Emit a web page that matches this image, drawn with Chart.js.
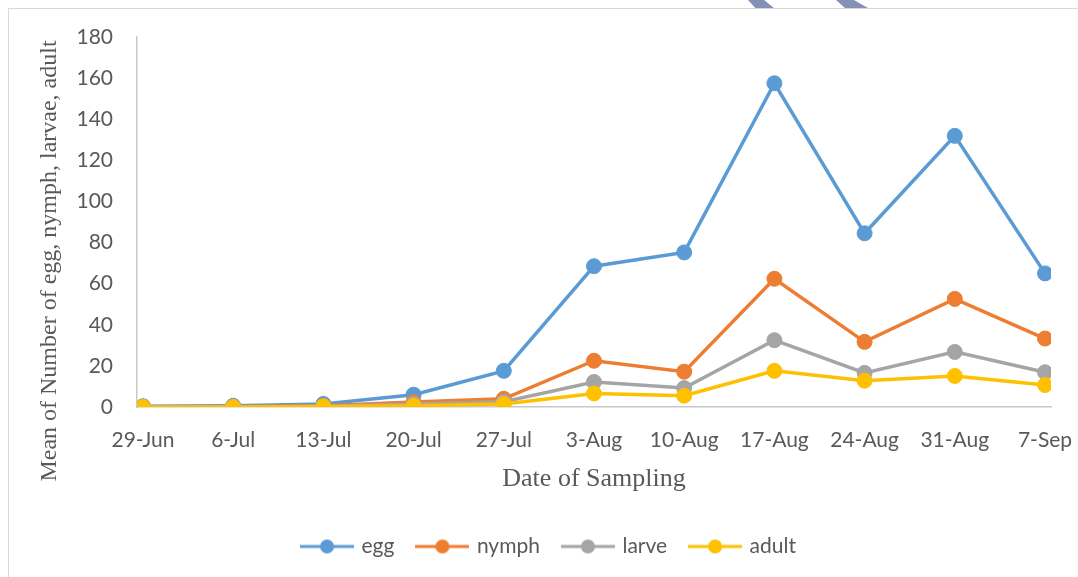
<!DOCTYPE html>
<html>
<head>
<meta charset="utf-8">
<script src="https://cdn.jsdelivr.net/npm/chart.js@4"></script>
<style>
  html, body { margin: 0; padding: 0; background: #ffffff; }
  #wrap { position: relative; width: 1078px; height: 577px; overflow: hidden; }
  #frame { position: absolute; left: 8px; top: 8px; width: 1200px; height: 700px;
           border-left: 1px solid #d9d9d9; border-top: 1px solid #d9d9d9; }
  .deco { position: absolute; top: 0; height: 8px; background: #8591b4; }
  #d1 { left: 748px; width: 26px; clip-path: polygon(0 0, 62% 0, 100% 100%, 28% 100%); }
  #d2 { left: 836px; width: 32px; clip-path: polygon(0 0, 56% 0, 100% 100%, 28% 100%); }
  canvas { position: absolute; left: 0; top: 0; }
</style>
</head>
<body>
<div id="wrap">
  <div id="frame"></div>
  <div class="deco" id="d1"></div>
  <div class="deco" id="d2"></div>
  <canvas id="c" width="1078" height="577"></canvas>
</div>
<script>
// ---- data ----
const dates = ['29-Jun', '6-Jul', '13-Jul', '20-Jul', '27-Jul', '3-Aug', '10-Aug', '17-Aug', '24-Aug', '31-Aug', '7-Sep'];
const egg   = [0.4, 0.6, 1.5, 6.0, 17.6, 68.5, 75.2, 157.5, 84.5, 131.9, 65.0];
const nymph = [0.1, 0.2, 0.6, 2.4, 4.0, 22.5, 17.2, 62.4, 31.7, 52.6, 33.3];
const larve = [0.0, 0.1, 0.4, 1.5, 2.6, 12.2, 9.2, 32.5, 16.6, 26.8, 16.9];
const adult = [0.0, 0.0, 0.3, 0.6, 1.5, 6.6, 5.5, 17.6, 12.8, 15.1, 10.7];
const seriesNames = ['egg', 'nymph', 'larve', 'adult'];
const yMin = 0, yMax = 180, yStep = 20;
const xTitle = 'Date of Sampling';
const yTitle = 'Mean of Number of egg, nymph, larvae, adult';

const colors = { egg: '#5B9BD5', nymph: '#ED7D31', larve: '#A5A5A5', adult: '#FFC000' };
const tickFont = { family: 'Lato', size: 21 };
const textColor = '#595959';

function legendIcon(color) {
  const c = document.createElement('canvas');
  c.width = 54; c.height = 16;
  const g = c.getContext('2d');
  g.strokeStyle = color; g.lineWidth = 3;
  g.beginPath(); g.moveTo(0, 8); g.lineTo(54, 8); g.stroke();
  g.fillStyle = color;
  g.beginPath(); g.arc(27, 8, 7, 0, Math.PI * 2); g.fill();
  return c;
}
const icons = {};
seriesNames.forEach(n => { icons[n] = legendIcon(colors[n]); });

function toPoints(arr) { return arr.map((v, i) => ({ x: i, y: v })); }

const seriesData = { egg, nymph, larve, adult };
// reversed so that later series (adult) are painted on top; legend reversed back
const datasets = seriesNames.slice().reverse().map(name => ({
  label: name,
  data: toPoints(seriesData[name]),
  borderColor: colors[name],
  backgroundColor: colors[name],
  pointBackgroundColor: colors[name],
  pointBorderColor: colors[name],
  pointBorderWidth: 1,
  pointRadius: 7.5,
  pointHoverRadius: 7.5,
  pointStyle: 'circle',
  borderWidth: 3.5,
  tension: 0,
  fill: false
}));

const yTitlePlugin = {
  id: 'yTitlePlugin',
  afterDraw(chart) {
    const ctx = chart.ctx;
    ctx.save();
    ctx.translate(50, 261);
    ctx.rotate(-Math.PI / 2);
    ctx.font = '24px "Liberation Serif"';
    ctx.fillStyle = textColor;
    ctx.textAlign = 'center';
    ctx.textBaseline = 'middle';
    ctx.fillText(yTitle, 0, 0);
    ctx.restore();
  }
};

const xPad = 0.0665;

new Chart(document.getElementById('c'), {
  type: 'line',
  data: { datasets },
  plugins: [yTitlePlugin],
  options: {
    responsive: false,
    animation: false,
    devicePixelRatio: 1,
    layout: { padding: { left: 48, right: 27, top: 37, bottom: 10 } },
    plugins: {
      tooltip: { enabled: false },
      legend: {
        position: 'bottom',
        reverse: true,
        labels: {
          usePointStyle: true,
          pointStyleWidth: 48,
          padding: 24,
          color: textColor,
          font: tickFont,
          generateLabels(chart) {
            const items = Chart.defaults.plugins.legend.labels.generateLabels(chart);
            items.forEach(it => { it.pointStyle = icons[it.text]; });
            return items;
          }
        }
      }
    },
    scales: {
      x: {
        type: 'linear',
        min: -xPad,
        max: dates.length - 1 + xPad,
        grid: { display: false, drawTicks: false },
        border: { display: true, color: '#c8c8c8', width: 1.5 },
        ticks: {
          stepSize: 1,
          includeBounds: false,
          autoSkip: false,
          maxRotation: 0,
          padding: 21,
          color: textColor,
          font: tickFont,
          callback: v => (Number.isInteger(v) && dates[v] !== undefined) ? dates[v] : ''
        },
        title: {
          display: true,
          text: xTitle,
          color: textColor,
          font: { family: 'Liberation Serif', size: 26 },
          padding: { top: 0, bottom: 17 }
        },
        afterFit(scale) {
          scale.height = 105;
          scale.paddingLeft = 0;
          scale.paddingRight = 0;
        }
      },
      y: {
        min: yMin,
        max: yMax,
        grid: { display: false, drawTicks: false },
        border: { display: true, color: '#c8c8c8', width: 1.5 },
        ticks: {
          stepSize: yStep,
          padding: 24,
          color: textColor,
          font: tickFont
        },
        afterFit(scale) { scale.width = 89; }
      }
    }
  }
});
</script>
</body>
</html>
